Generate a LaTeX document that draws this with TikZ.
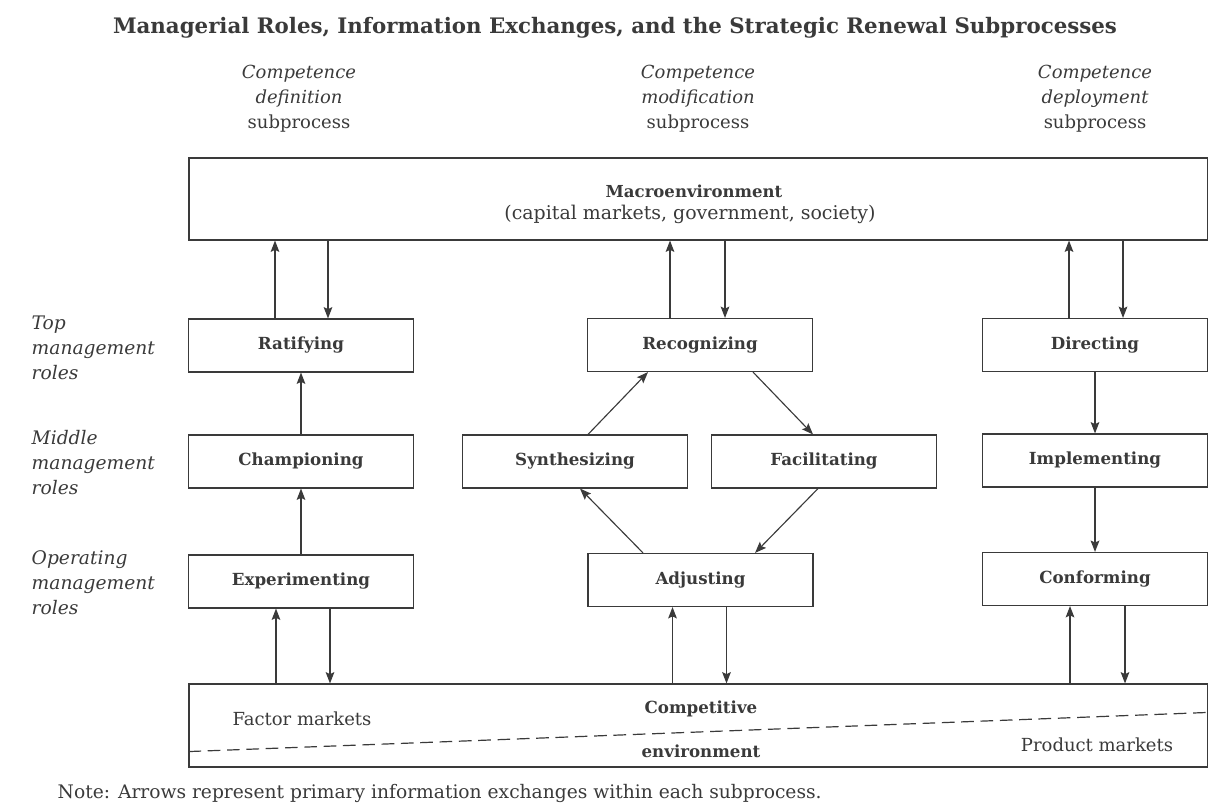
\documentclass[tikz,border=0pt]{standalone}
\usepackage{fontspec}
\setmainfont{DejaVu Serif}
\usetikzlibrary{arrows.meta}
\definecolor{ink}{HTML}{3A3A3A}
\begin{document}
\begin{tikzpicture}[x=0.75pt,y=-0.75pt,
  every node/.style={text=ink},
  box/.style={draw=ink, line width=0.85pt, minimum width=168.75pt, minimum height=39.75pt, inner sep=0pt, font=\fontsize{12.5}{15}\selectfont\bfseries},
  bigbox/.style={draw=ink, line width=0.85pt, minimum width=763.9pt, inner sep=0pt},
  arr/.style={draw=ink, line width=0.85pt, -{Stealth[length=8.5pt,width=6.5pt,inset=1.5pt]}},
  thickarr/.style={arr, line width=1.4pt},
  head/.style={font=\fontsize{13.5}{18.75}\selectfont\itshape, align=center},
  rowlab/.style={font=\fontsize{14}{18.75}\selectfont\itshape, align=left, anchor=west},
  plain/.style={font=\fontsize{13.5}{16}\selectfont},
  boldtxt/.style={font=\fontsize{12.5}{15}\selectfont\bfseries},
  dashline/.style={draw=ink, line width=0.9pt, dash pattern=on 9.5pt off 5pt}]
\useasboundingbox (0,0) rectangle (1209,805);

% title
\node[font=\fontsize{16}{19}\selectfont\bfseries] (title) at (615,28) {Managerial Roles, Information Exchanges, and the Strategic Renewal Subprocesses};

% column headings
\node[head] (h1) at (299,98.5) {Competence\\definition\\\upshape subprocess};
\node[head] (h2) at (698,98.5) {Competence\\modification\\\upshape subprocess};
\node[head] (h3) at (1095,98.5) {Competence\\deployment\\\upshape subprocess};

% row labels
\node[rowlab] (r1) at (27,348) {Top\\management\\roles};
\node[rowlab] (r2) at (27,463) {Middle\\management\\roles};
\node[rowlab] (r3) at (27,583) {Operating\\management\\roles};

% macroenvironment
\node[bigbox, minimum height=61.5pt] (macro) at (698.25,199) {};
\node[font=\fontsize{12.4}{14}\selectfont\bfseries] (macrot) at (694,191) {Macroenvironment};
\node[font=\fontsize{14.2}{17}\selectfont] (macros) at (690,214) {(capital markets, government, society)};

% competitive environment
\node[bigbox, minimum height=62.25pt] (comp) at (698.25,725.5) {};
\draw[dashline] ([yshift=12pt]comp.south west) -- ([yshift=-21.75pt]comp.north east);
\node[plain] (factor) at (302,719) {Factor markets};
\node[boldtxt] (compt) at (701,709) {Competitive};
\node[boldtxt] (envt) at (701,751) {environment};
\node[plain] (product) at (1097,745) {Product markets};

% role boxes
\node[box] (rat) at (301,345.5) {Ratifying};
\node[box] (cha) at (301,461.5) {Championing};
\node[box] (exp) at (301,581.5) {Experimenting};
\node[box] (rec) at (700,345) {Recognizing};
\node[box] (syn) at (575,461.5) {Synthesizing};
\node[box] (fac) at (824,461.5) {Facilitating};
\node[box] (adj) at (700.5,580) {Adjusting};
\node[box] (dir) at (1095,345) {Directing};
\node[box] (imp) at (1095,460.5) {Implementing};
\node[box] (con) at (1095,579) {Conforming};

% left column
\draw[arr] ([xshift=-19.5pt]rat.north) -- ([xshift=-19.5pt]rat.north |- macro.south);
\draw[arr] ([xshift=20.25pt]rat.north |- macro.south) -- ([xshift=20.25pt]rat.north);
\draw[arr] (cha.north) -- (rat.south);
\draw[arr] (exp.north) -- (cha.south);
\draw[arr] ([xshift=-18.75pt]exp.south |- comp.north) -- ([xshift=-18.75pt]exp.south);
\draw[arr] ([xshift=21.75pt]exp.south) -- ([xshift=21.75pt]exp.south |- comp.north);

% middle column
\draw[arr] ([xshift=-22.5pt]rec.north) -- ([xshift=-22.5pt]rec.north |- macro.south);
\draw[arr] ([xshift=18.75pt]rec.north |- macro.south) -- ([xshift=18.75pt]rec.north);
\draw[arr] ([xshift=9.75pt]syn.north) -- ([xshift=-39pt]rec.south);
\draw[arr] ([xshift=39.75pt]rec.south) -- ([xshift=-8.25pt]fac.north);
\draw[arr] ([xshift=-4.5pt]fac.south) -- ([xshift=40.9pt]adj.north);
\draw[arr] ([xshift=-43.1pt]adj.north) -- ([xshift=3.75pt]syn.south);
\draw[arr] ([xshift=-21pt]adj.south |- comp.north) -- ([xshift=-21pt]adj.south);
\draw[arr] ([xshift=19.5pt]adj.south) -- ([xshift=19.5pt]adj.south |- comp.north);

% right column
\draw[arr, line width=1.1pt] ([xshift=-19.5pt]dir.north) -- ([xshift=-19.5pt]dir.north |- macro.south);
\draw[arr] ([xshift=21pt]dir.north |- macro.south) -- ([xshift=21pt]dir.north);
\draw[arr] (dir.south) -- (imp.north);
\draw[thickarr] (imp.south) -- (con.north);
\draw[arr] ([xshift=-18.75pt]con.south |- comp.north) -- ([xshift=-18.75pt]con.south);
\draw[arr] ([xshift=22.5pt]con.south) -- ([xshift=22.5pt]con.south |- comp.north);

% note
\node[font=\fontsize{14}{16}\selectfont, anchor=west] (note) at (53,793) {Note: Arrows represent primary information exchanges within each subprocess.};
\end{tikzpicture}
\end{document}
